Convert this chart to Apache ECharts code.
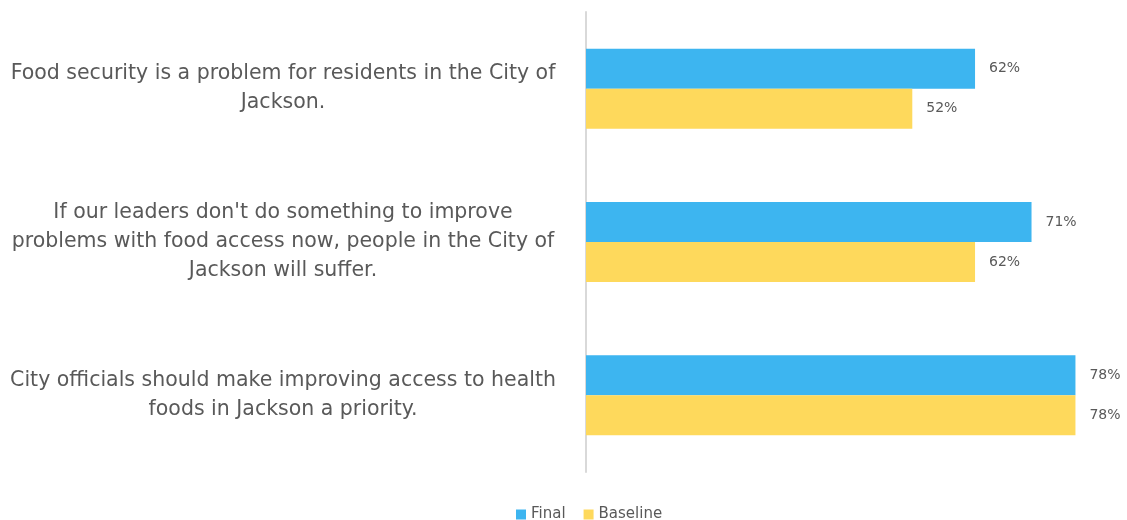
<!DOCTYPE html>
<html>
<head>
<meta charset="utf-8">
<script src="https://cdn.jsdelivr.net/npm/echarts@6/dist/echarts.min.js"></script>
<style>
  html, body { margin: 0; padding: 0; background: #ffffff; }
  #chart { width: 1127px; height: 520px; }
</style>
</head>
<body>
<div id="chart"></div>
<script>
// Survey statements (line breaks as they wrap on the chart)
const categories = [
  "Food security is a problem for residents in the City of\nJackson.",
  "If our leaders don't do something to improve\nproblems with food access now, people in the City of\nJackson will suffer.",
  "City officials should make improving access to health\nfoods in Jackson a priority."
];
const seriesNames = ["Final", "Baseline"];
const finalValues = [62, 71, 78];
const baselineValues = [52, 62, 78];

const textColor = "#595959";
const fontFamily = "'DejaVu Sans', 'Noto Sans', sans-serif";

const chart = echarts.init(document.getElementById("chart"), null, { renderer: "canvas" });

const valueLabel = {
  show: true,
  position: "right",
  distance: 14,
  formatter: p => p.value + "%",
  color: textColor,
  fontSize: 14,
  fontFamily: fontFamily
};

chart.setOption({
  animation: false,
  backgroundColor: "#ffffff",
  textStyle: { fontFamily: fontFamily },
  grid: { left: 586, right: 39, top: 12, bottom: 48, containLabel: false },
  legend: {
    data: seriesNames,
    left: 516,
    top: 507,
    padding: 0,
    itemWidth: 10,
    itemHeight: 10,
    itemGap: 18,
    icon: "rect",
    textStyle: { color: textColor, fontSize: 15, fontFamily: fontFamily }
  },
  xAxis: {
    type: "value",
    min: 0,
    max: 80,
    show: false,
    splitLine: { show: false }
  },
  yAxis: {
    type: "category",
    data: categories,
    inverse: true,
    axisTick: { show: false },
    axisLine: { show: true, lineStyle: { color: "#d9d9d9", width: 2 } },
    axisLabel: {
      align: "center",
      margin: 303,
      fontSize: 20.5,
      lineHeight: 29,
      color: textColor,
      fontFamily: fontFamily
    }
  },
  series: [
    {
      name: seriesNames[0],
      type: "bar",
      data: finalValues,
      barWidth: 40,
      barGap: "0%",
      itemStyle: { color: "#3db5f0" },
      label: valueLabel
    },
    {
      name: seriesNames[1],
      type: "bar",
      data: baselineValues,
      barWidth: 40,
      barGap: "0%",
      itemStyle: { color: "#fed95c" },
      label: valueLabel
    }
  ]
});
</script>
</body>
</html>
